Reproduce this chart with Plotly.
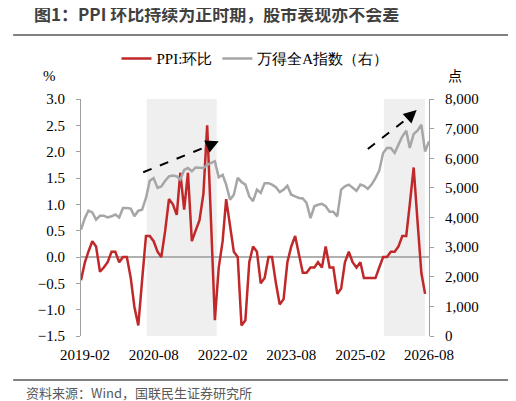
import pandas as pd
import plotly.graph_objects as go

# monthly data, 2019-01 onward
months = pd.date_range("2019-01-01", periods=92, freq="MS").strftime("%Y-%m-%d").tolist()

ppi_mom = [-0.44, -0.1, 0.1, 0.3, 0.2, -0.28, -0.2, -0.1, 0.1, 0.1,
           -0.1, 0.0, 0.0, -0.4, -0.95, -1.3, -0.45, 0.4, 0.4, 0.3,
           0.1, 0.0, 0.5, 1.1, 1.0, 0.8, 1.6, 0.9, 1.6, 0.3,
           0.5, 0.7, 1.2, 2.5, 0.65, -1.2, -0.2, 0.3, 1.1, 0.55,
           0.1, 0.0, -1.3, -1.2, -0.1, 0.2, 0.1, -0.5, -0.4, 0.0,
           0.0, -0.5, -0.9, -0.8, -0.1, 0.2, 0.4, 0.05, -0.3, -0.3,
           -0.2, -0.2, -0.1, -0.2, 0.2, -0.2, -0.2, -0.7, -0.6, -0.1,
           0.1, -0.1, -0.2, -0.1, -0.4, -0.4, -0.4, -0.4, -0.2, 0.0,
           0.0, 0.1, 0.1, 0.2, 0.4, 0.4, 1.0, 1.7, 0.7, -0.3,
           -0.7]

wind_a = [3590, 3980, 4230, 4170, 3930, 4060, 4060, 4000, 4040, 4100,
          4000, 4320, 4320, 4300, 4040, 4230, 4260, 4660, 5240, 5330,
          5000, 5050, 5240, 5390, 5420, 5390, 5280, 5610, 5670, 5560,
          5690, 5670, 5670, 5780, 5840, 5900, 5360, 5440, 5110, 4600,
          4770, 5340, 5200, 5110, 4710, 4550, 4940, 4830, 5160, 5160,
          5110, 5020, 4860, 4940, 5070, 4770, 4710, 4660, 4640, 4490,
          3980, 4380, 4430, 4460, 4380, 4190, 4190, 4040, 4940, 5050,
          5110, 5020, 4900, 5110, 5070, 4970, 5110, 5330, 5580, 6180,
          6350, 6350, 6180, 6460, 6740, 6930, 6350, 6820, 6930, 7130,
          6230, 6570]

tick_vals = ["2019-02-01", "2020-08-01", "2022-02-01", "2023-08-01", "2025-02-01", "2026-08-01"]
tick_text = ["2019-02", "2020-08", "2022-02", "2023-08", "2025-02", "2026-08"]

RED = "#C0282A"
GREY = "#A6A6A6"
serif = "Liberation Serif"

fig = go.Figure()
fig.add_trace(go.Scatter(x=months, y=wind_a, name="万得全A指数（右）", yaxis="y2",
                         mode="lines", line=dict(color=GREY, width=2.5)))
fig.add_trace(go.Scatter(x=months[:len(ppi_mom)], y=ppi_mom, name="PPI:环比",
                         mode="lines", line=dict(color=RED, width=2.5)))

# shaded periods
for x0, x1 in [("2020-06-07", "2021-12-16"), ("2025-08-07", "2026-07-01")]:
    fig.add_shape(type="rect", xref="x", yref="paper", x0=x0, x1=x1, y0=0, y1=1,
                  fillcolor="#EFEFEF", line_width=0, layer="below")

# dashed trend arrows: dashed body + short solid head
for (xs, ys), (xm, ym), (xe, ye) in [
        (("2020-05-10", 1.61), ("2021-10-01", 2.1), ("2022-01-01", 2.2)),
        (("2025-04-01", 2.05), ("2026-02-15", 2.64), ("2026-04-25", 2.79))]:
    fig.add_shape(type="line", x0=xs, y0=ys, x1=xm, y1=ym,
                  line=dict(color="black", width=2, dash="dash"))
    fig.add_annotation(x=xe, y=ye, ax=xm, ay=ym, axref="x", ayref="y",
                       showarrow=True, arrowhead=2, arrowsize=1.3, arrowwidth=2,
                       arrowcolor="black", text="", standoff=0)

fig.update_layout(
    width=516, height=401,
    margin=dict(l=73, r=95, t=91, b=73, autoexpand=False),
    plot_bgcolor="white", paper_bgcolor="white",
    font=dict(family=serif, size=15, color="black"),
    showlegend=True,
    legend=dict(orientation="h", x=0.5, xanchor="center", y=1.17, yanchor="middle",
                traceorder="reversed", font=dict(size=15, family=serif),
                bgcolor="rgba(0,0,0,0)"),
    xaxis=dict(range=["2019-01-01", "2026-08-01"], tickvals=tick_vals, ticktext=tick_text,
               showgrid=False, showline=False, ticks="", tickfont=dict(size=15),
               ticklabelstandoff=8),
    yaxis=dict(range=[-1.5, 3.0], dtick=0.5, tickformat=".1f", showgrid=False,
               showline=True, linecolor="#A0A0A0", ticks="outside", ticklen=4,
               tickcolor="#A0A0A0", zeroline=True, zerolinecolor="#B0B0B0", zerolinewidth=1.5,
               ticklabelstandoff=8),
    yaxis2=dict(range=[0, 8000], dtick=1000, tickformat=",", overlaying="y", side="right",
                showgrid=False, showline=True, linecolor="#A0A0A0", ticks="outside",
                ticklen=4, tickcolor="#A0A0A0", zeroline=False, ticklabelstandoff=8),
)

fig.add_annotation(text="<b>图1：PPI 环比持续为正时期，股市表现亦不会差</b>", xref="paper", yref="paper",
                   x=-0.14, y=1.3, xanchor="left", yanchor="bottom", showarrow=False,
                   font=dict(family="Noto Sans CJK SC", size=17, color="#404040"))
fig.add_shape(type="line", xref="paper", yref="paper", x0=-0.195, x1=1.26, y0=1.27, y1=1.27,
              line=dict(color="#808080", width=2))
fig.add_shape(type="line", xref="paper", yref="paper", x0=-0.195, x1=1.26, y0=-0.186, y1=-0.186,
              line=dict(color="#808080", width=2))
fig.add_annotation(text="资料来源：Wind，国联民生证券研究所", xref="paper", yref="paper",
                   x=-0.165, y=-0.24, xanchor="left", yanchor="middle", showarrow=False,
                   font=dict(family="Noto Sans CJK SC", size=13, color="#595959"))
fig.add_annotation(text="%", xref="paper", yref="paper", x=-0.115, y=1.14, showarrow=False,
                   font=dict(size=15))
fig.add_annotation(text="点", xref="paper", yref="paper", x=1.1, y=1.15, showarrow=False,
                   font=dict(family="Noto Sans CJK SC", size=14))

fig.write_html("out.html")
